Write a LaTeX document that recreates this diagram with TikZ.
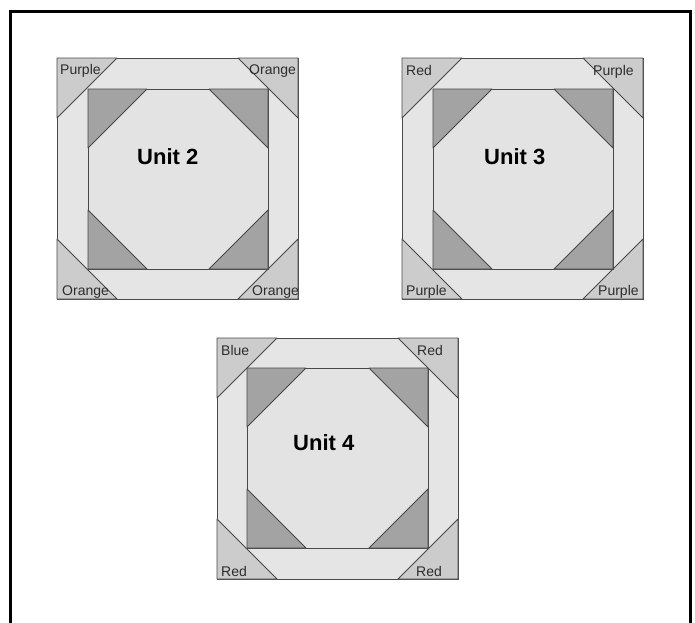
\documentclass[tikz,border=0pt]{standalone}
\usepackage{fontspec}
\setmainfont{Liberation Sans}
\definecolor{bandgray}{RGB}{229,229,229}
\definecolor{octgray}{RGB}{227,227,227}
\definecolor{cornergray}{RGB}{204,204,204}
\definecolor{darkgray}{RGB}{163,163,163}
\definecolor{edgegray}{RGB}{72,72,72}
\definecolor{labelgray}{RGB}{45,45,45}
\tikzset{
  band/.style={fill=bandgray, draw=edgegray, line width=1pt},
  cornertri/.style={fill=cornergray, draw=edgegray, line width=0.8pt, line join=round},
  octa/.style={fill=octgray, draw=edgegray, line width=1pt},
  innertri/.style={fill=darkgray, draw=edgegray, line width=0.8pt, line join=round},
  colorlabel/.style={anchor=base west, inner sep=0pt, text=labelgray, font=\fontsize{14}{15}\selectfont},
  unittitle/.style={anchor=base west, inner sep=0pt, text=black, font=\bfseries\fontsize{22}{24}\selectfont},
  frameline/.style={draw=black, line width=3pt}
}
\begin{document}
\begin{tikzpicture}[x=1pt,y=-1pt]
  \useasboundingbox (0,0) rectangle (695,622);
  \clip (0,0) rectangle (695,622);
  \coordinate (fbl) at (10,640);
  \coordinate (ftl) at (10,11);
  \coordinate (ftr) at (690,11);
  \coordinate (fbr) at (690,640);
  \draw[frameline] (fbl) -- (ftl) -- (ftr) -- (fbr);

  % Unit 2
  \begin{scope}[shift={(57,58)}]
    \draw[band] (0,0) rectangle (241,241);
    \draw[cornertri] (0,0) -- (60,0) -- (0,60) -- cycle;
    \draw[cornertri] (241,0) -- (181,0) -- (241,60) -- cycle;
    \draw[cornertri] (0,241) -- (60,241) -- (0,181) -- cycle;
    \draw[cornertri] (241,241) -- (181,241) -- (241,181) -- cycle;
    \draw[octa] (31,31) rectangle (211,211);
    \draw[innertri] (31,31) -- (90,31) -- (31,90) -- cycle;
    \draw[innertri] (211,31) -- (152,31) -- (211,90) -- cycle;
    \draw[innertri] (31,211) -- (90,211) -- (31,152) -- cycle;
    \draw[innertri] (211,211) -- (152,211) -- (211,152) -- cycle;
    \node[colorlabel] (u2tl) at (3,16) {Purple};
    \node[colorlabel] (u2tr) at (192,16) {Orange};
    \node[colorlabel] (u2bl) at (5,237) {Orange};
    \node[colorlabel] (u2br) at (195,237) {Orange};
    \node[unittitle] (u2t) at (80,106) {Unit 2};
  \end{scope}

  % Unit 3
  \begin{scope}[shift={(402,58)}]
    \draw[band] (0,0) rectangle (241,241);
    \draw[cornertri] (0,0) -- (60,0) -- (0,60) -- cycle;
    \draw[cornertri] (241,0) -- (181,0) -- (241,60) -- cycle;
    \draw[cornertri] (0,241) -- (60,241) -- (0,181) -- cycle;
    \draw[cornertri] (241,241) -- (181,241) -- (241,181) -- cycle;
    \draw[octa] (31,31) rectangle (211,211);
    \draw[innertri] (31,31) -- (90,31) -- (31,90) -- cycle;
    \draw[innertri] (211,31) -- (152,31) -- (211,90) -- cycle;
    \draw[innertri] (31,211) -- (90,211) -- (31,152) -- cycle;
    \draw[innertri] (211,211) -- (152,211) -- (211,152) -- cycle;
    \node[colorlabel] (u3tl) at (4,17) {Red};
    \node[colorlabel] (u3tr) at (191,17) {Purple};
    \node[colorlabel] (u3bl) at (4,237) {Purple};
    \node[colorlabel] (u3br) at (196,237) {Purple};
    \node[unittitle] (u3t) at (82,106) {Unit 3};
  \end{scope}

  % Unit 4
  \begin{scope}[shift={(217,338)}]
    \draw[band] (0,0) rectangle (241,241);
    \draw[cornertri] (0,0) -- (60,0) -- (0,60) -- cycle;
    \draw[cornertri] (241,0) -- (181,0) -- (241,60) -- cycle;
    \draw[cornertri] (0,241) -- (60,241) -- (0,181) -- cycle;
    \draw[cornertri] (241,241) -- (181,241) -- (241,181) -- cycle;
    \draw[octa] (30,30) rectangle (211,210);
    \draw[innertri] (30,30) -- (89,30) -- (30,89) -- cycle;
    \draw[innertri] (211,30) -- (152,30) -- (211,89) -- cycle;
    \draw[innertri] (30,210) -- (89,210) -- (30,151) -- cycle;
    \draw[innertri] (211,210) -- (152,210) -- (211,151) -- cycle;
    \node[colorlabel] (u4tl) at (4,17) {Blue};
    \node[colorlabel] (u4tr) at (200,17) {Red};
    \node[colorlabel] (u4bl) at (4,238) {Red};
    \node[colorlabel] (u4br) at (199,238) {Red};
    \node[unittitle] (u4t) at (76,112) {Unit 4};
  \end{scope}
\end{tikzpicture}
\end{document}
